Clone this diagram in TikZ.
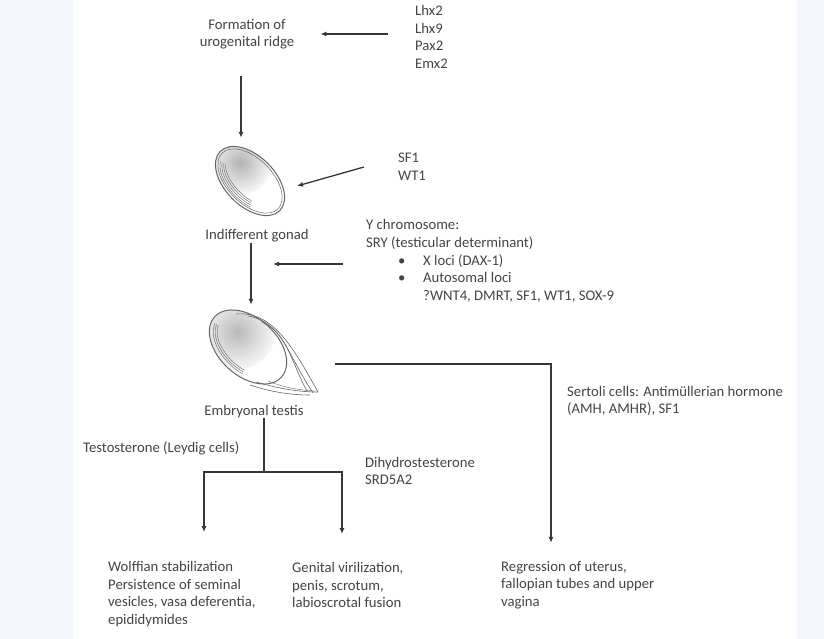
\documentclass[tikz,border=0pt]{standalone}
\usepackage{fontspec}
\setmainfont{Carlito}
\usetikzlibrary{arrows.meta}
\definecolor{bgblue}{RGB}{244,246,254}
\definecolor{txtc}{RGB}{68,68,68}
\definecolor{linec}{RGB}{55,55,55}
\tikzset{
  lbl/.style={inner sep=0pt, align=left, text=txtc, font=\fontsize{14.7}{17.6}\selectfont},
  lblc/.style={lbl, align=center},
  arr/.style={draw=linec, line width=1.3pt, -{Latex[length=6pt,width=5pt]}},
  ln/.style={draw=linec, line width=1.3pt},
  sk/.style={draw=gray!80!black, line width=0.6pt},
  hatch/.style={draw=gray!70!black, line width=0.35pt},
  ghost/.style={inner sep=0pt, minimum width=90pt, minimum height=86pt}
}
\newcommand{\bul}{\hspace*{32pt}\makebox[25pt][l]{\textbullet}}
\begin{document}
\begin{tikzpicture}[x=1pt,y=-1pt]
\useasboundingbox (0,0) rectangle (824,639);
\fill[bgblue] (0,0) rectangle (824,639);
\fill[white] (73,0) rectangle (797,639);

% text nodes
\node[lblc] (form) at (247,34) {Formation of\\urogenital ridge};
\node[lbl, anchor=west] (lhx) at (415,37) {Lhx2\\Lhx9\\Pax2\\Emx2};
\node[ghost] (gonad) at (241,181) {};
\node[lbl, anchor=west] (sf) at (398,167) {SF1\\WT1};
\node[lblc] (indiff) at (257,236) {Indifferent gonad};
\node[lbl, anchor=west] (ychr) at (366,261) {Y chromosome:\\SRY (testicular determinant)\\\bul X loci (DAX-1)\\\bul Autosomal loci\\\hspace*{57pt}?WNT4, DMRT, SF1, WT1, SOX-9};
\node[ghost, minimum height=80pt] (testis) at (251,345) {};
\node[lblc] (etest) at (254,412) {Embryonal testis};
\node[lbl, anchor=west] (sertoli) at (567,401) {Sertoli cells: Antimüllerian hormone\\(AMH, AMHR), SF1};
\node[lbl, anchor=west] (testo) at (83,448) {Testosterone (Leydig cells)};
\node[lbl, anchor=west] (dht) at (365,471) {Dihydrostesterone\\SRD5A2};
\node[lbl, anchor=west] (wolff) at (108,594) {Wolffian stabilization\\Persistence of seminal\\vesicles, vasa deferentia,\\epididymides};
\node[lbl, anchor=west] (genital) at (292,585) {Genital virilization,\\penis, scrotum,\\labioscrotal fusion};
\node[lbl, anchor=west] (regress) at (501,585) {Regression of uterus,\\fallopian tubes and upper\\vagina};
\coordinate (split) at (264,472);

% gonad drawing
\begin{scope}[shift={(250,181)}, rotate=-45]
  \begin{scope}
    \clip (0,0) ellipse [x radius=42, y radius=25];
    \shade[inner color=gray!60, outer color=white] (-20,-6) circle (32);
  \end{scope}
  \draw[sk, line width=1pt] (0,0) ellipse [x radius=42, y radius=25];
  \draw[sk, line width=0.5pt] (0,0) ellipse [x radius=39.5, y radius=22.5];
  \foreach \xr/\yr in {37/21, 35/19, 33/17, 31/15}{
    \draw[hatch] (200:\xr pt and \yr pt) arc[start angle=200, end angle=300, x radius=\xr pt, y radius=\yr pt];
  }
\end{scope}

% testis drawing
\begin{scope}[shift={(248,347)}, rotate=-42]
  \begin{scope}
    \clip (0,0) ellipse [x radius=45, y radius=29];
    \shade[inner color=gray!55, outer color=white] (-18,-4) circle (38);
  \end{scope}
  \draw[sk, line width=1pt] (0,0) ellipse [x radius=45, y radius=29];
  \foreach \xr/\yr in {41/25, 39/23, 37/21}{
    \draw[hatch] (190:\xr pt and \yr pt) arc[start angle=190, end angle=290, x radius=\xr pt, y radius=\yr pt];
  }
\end{scope}
\draw[sk] (236,314) .. controls (272,311) and (292,345) .. (318,392);
\draw[sk] (248,316) .. controls (282,322) and (286,352) .. (313,393);
\draw[sk] (262,322) .. controls (288,334) and (290,360) .. (307,391);
\draw[sk] (256,382) .. controls (280,389) and (300,392) .. (318,392);
\draw[sk] (250,385) .. controls (274,393) and (294,395) .. (310,395);
\draw[hatch] (268,381) .. controls (285,388) and (300,390) .. (315,391);

% connectors
\draw[arr, shorten <=27pt] (form.east -| lhx.west) -- ([xshift=26pt]form.east);
\draw[arr, shorten <=27pt] (form.south -| gonad.north) -- (gonad.north);
\draw[arr] ([xshift=-34pt]sf.west) -- ([shift={(56,5)}]gonad.center);
\draw[arr] (indiff.south -| testis.north) -- (testis.north);
\draw[arr] ([shift={(-23,3)}]ychr.west) -- ([shift={(22,-81)}]testis.center);
\draw[arr, shorten >=18pt] ([shift={(84,19)}]testis.center) -| ([xshift=50pt]regress.north west);
\draw[ln] (etest.south -| split) -- (split);
\draw[arr, shorten >=29pt] (split) -| ([xshift=96pt]wolff.north west);
\draw[arr, shorten >=28pt] (split) -| ([xshift=50pt]genital.north west);
\end{tikzpicture}
\end{document}
